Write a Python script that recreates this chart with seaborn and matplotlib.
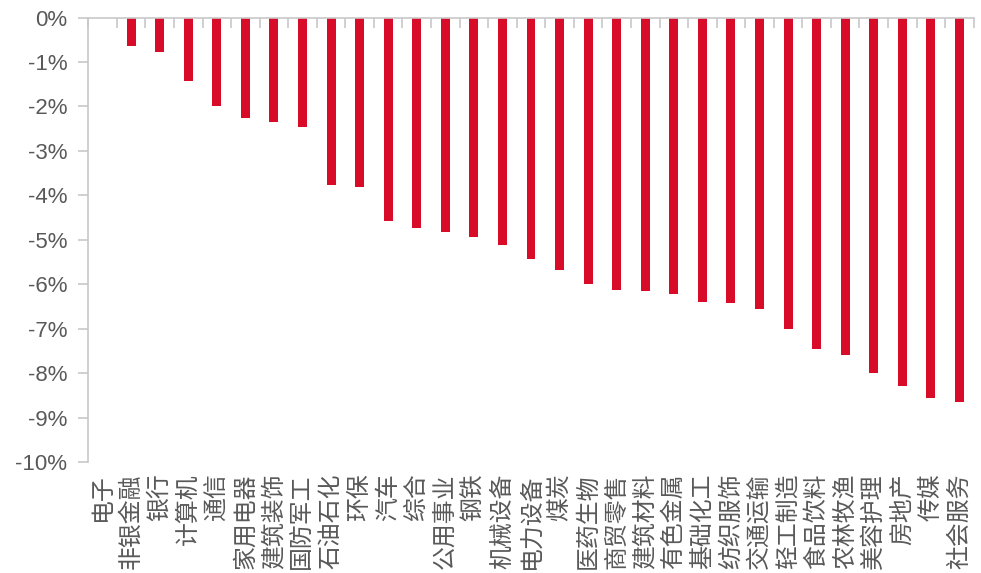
import matplotlib
matplotlib.use("Agg")
import matplotlib.pyplot as plt
import numpy as np
import pandas as pd
import seaborn as sns

# Industry returns (%)
industries = ["电子", "非银金融", "银行", "计算机", "通信", "家用电器", "建筑装饰", "国防军工",
              "石油石化", "环保", "汽车", "综合", "公用事业", "钢铁", "机械设备", "电力设备",
              "煤炭", "医药生物", "商贸零售", "建筑材料", "有色金属", "基础化工", "纺织服饰",
              "交通运输", "轻工制造", "食品饮料", "农林牧渔", "美容护理", "房地产", "传媒", "社会服务"]
returns = [0.0, -0.64, -0.77, -1.43, -1.99, -2.26, -2.35, -2.47,
           -3.76, -3.81, -4.57, -4.73, -4.82, -4.93, -5.11, -5.43,
           -5.68, -6.00, -6.12, -6.15, -6.23, -6.40, -6.43,
           -6.56, -7.00, -7.46, -7.59, -7.99, -8.30, -8.55, -8.65]
y_ticks = list(range(0, -11, -1))
y_tick_labels = [f"{t}%" for t in y_ticks]

sns.set_theme(style="white")
plt.rcParams["font.family"] = ["Liberation Sans", "Noto Sans CJK SC", "DejaVu Sans"]

df = pd.DataFrame({"industry": industries, "ret": returns})

W, H = 981, 573
fig = plt.figure(figsize=(W / 100, H / 100), dpi=100)
ax = fig.add_axes([88.3 / W, 1 - 462 / H, 885.4 / W, 444.5 / H])

sns.barplot(data=df, x="industry", y="ret", order=industries, color="#d80c28",
            saturation=1, width=0.315, ax=ax, edgecolor="none")

axis_grey = "#c8c8c8"
text_grey = "#595959"

ax.set_ylim(-10, 0)
ax.set_xlim(-0.5, len(industries) - 0.5)
ax.set_yticks(y_ticks)
ax.set_yticklabels(y_tick_labels, fontsize=16, color=text_grey)
ax.set_xlabel("")
ax.set_ylabel("")

# Category labels along the bottom, vertical
ax.set_xticks(range(len(industries)))
ax.set_xticklabels(industries, rotation=90, fontsize=17.2, color=text_grey,
                   family=["Noto Sans CJK SC", "DejaVu Sans"], va="top")
ax.tick_params(axis="x", which="major", length=0, pad=8)
ax.tick_params(axis="y", left=True, direction="out", length=7, width=1.2,
               color=axis_grey, pad=8)

# Zero line on top with boundary tick marks, faint value axis on the left
for side in ["right", "bottom"]:
    ax.spines[side].set_visible(False)
for side in ["top", "left"]:
    ax.spines[side].set_visible(True)
    ax.spines[side].set_color(axis_grey)
    ax.spines[side].set_linewidth(1.2)
ax.set_xticks(np.arange(-0.5, len(industries) - 0.4, 1), minor=True)
ax.tick_params(axis="x", which="minor", top=True, bottom=False, direction="in",
               length=7, width=1.2, color=axis_grey)
ax.grid(False)

fig.savefig("out.png", dpi=100)
